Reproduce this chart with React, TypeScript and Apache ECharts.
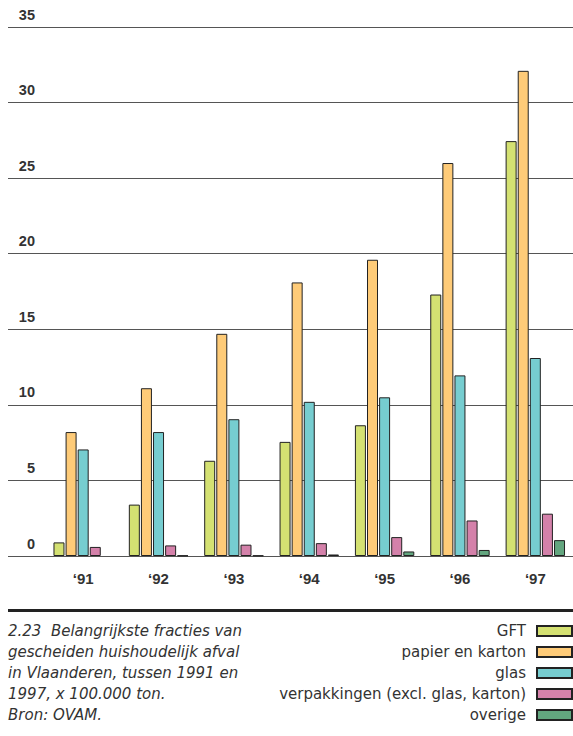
import React, { useEffect, useRef } from "react";
import * as echarts from "echarts";

const years = ["‘91", "‘92", "‘93", "‘94", "‘95", "‘96", "‘97"];
const seriesNames = [
  "GFT",
  "papier en karton",
  "glas",
  "verpakkingen (excl. glas, karton)",
  "overige",
];
const gft = [0.9, 3.4, 6.3, 7.55, 8.65, 17.3, 27.45];
const papier = [8.2, 11.1, 14.7, 18.1, 19.6, 26.0, 32.1];
const glas = [7.05, 8.2, 9.05, 10.2, 10.5, 11.95, 13.1];
const verpakkingen = [0.6, 0.7, 0.75, 0.85, 1.25, 2.35, 2.8];
const overige = [null, 0.03, 0.03, 0.1, 0.3, 0.4, 1.05];
const colors = ["#d4e172", "#fecb78", "#76cdd0", "#d481aa", "#63a67f"];
const yTicks = { min: 0, max: 35, interval: 5 };
const caption =
  "2.23  Belangrijkste fracties van\ngescheiden huishoudelijk afval\nin Vlaanderen, tussen 1991 en\n1997, x 100.000 ton.\nBron: OVAM.";

export default function App() {
  const ref = useRef<HTMLDivElement>(null);
  useEffect(() => {
    if (!ref.current) return;
    const chart = echarts.init(ref.current, undefined, { renderer: "svg" });
    const values = [gft, papier, glas, verpakkingen, overige];
    const font = "'Liberation Sans', Arial, Helvetica, sans-serif";
    const wide = "'DejaVu Sans', Verdana, sans-serif";
    chart.setOption({
      animation: false,
      textStyle: { fontFamily: font },
      grid: [
        { left: 8, width: 565, top: 27, height: 529 },
        { left: 45.5, width: 529.5, top: 27, height: 529 },
      ],
      xAxis: [
        { type: "value", gridIndex: 0, show: false, min: 0, max: 1 },
        {
          type: "category",
          gridIndex: 1,
          data: years,
          axisLine: { show: false },
          axisTick: { show: false },
          axisLabel: {
            margin: 15,
            fontSize: 15,
            fontWeight: "bold",
            color: "#333",
            fontFamily: font,
          },
        },
      ],
      yAxis: [
        {
          type: "value",
          gridIndex: 0,
          ...yTicks,
          axisLine: { show: false },
          axisTick: { show: false },
          splitLine: { show: true, lineStyle: { color: "#555", width: 1 } },
          axisLabel: {
            inside: true,
            margin: 27,
            align: "right",
            verticalAlign: "bottom",
            padding: [0, 0, 5, 0],
            fontSize: 14.5,
            fontWeight: "bold",
            color: "#333",
            fontFamily: font,
          },
        },
        {
          type: "value",
          gridIndex: 1,
          ...yTicks,
          show: false,
          splitLine: { show: false },
        },
      ],
      legend: {
        orient: "vertical",
        right: 0,
        top: 620.5,
        padding: 0,
        align: "right",
        icon: "rect",
        itemWidth: 35,
        itemHeight: 10,
        itemGap: 0,
        data: seriesNames,
        textStyle: {
          fontSize: 15,
          lineHeight: 21,
          color: "#333",
          fontFamily: wide,
          padding: [0, 6, 0, 0],
        },
      },
      series: seriesNames.map((name, i) => ({
        name,
        type: "bar",
        xAxisIndex: 1,
        yAxisIndex: 1,
        data: values[i],
        barWidth: 11,
        barGap: "10%",
        itemStyle: { color: colors[i], borderColor: "#222", borderWidth: 1 },
      })),
      graphic: [
        {
          type: "rect",
          shape: { x: 8, y: 609, width: 565, height: 3 },
          style: { fill: "#222" },
        },
        {
          type: "text",
          x: 8,
          y: 620,
          style: {
            text: caption,
            fontSize: 15,
            fontStyle: "italic",
            lineHeight: 21.2,
            fill: "#333",
            fontFamily: wide,
            verticalAlign: "top",
          },
        },
      ],
    });
    return () => chart.dispose();
  }, []);
  return (
    <div
      ref={ref}
      style={{ position: "absolute", left: 0, top: 0, width: 573, height: 736 }}
    />
  );
}
